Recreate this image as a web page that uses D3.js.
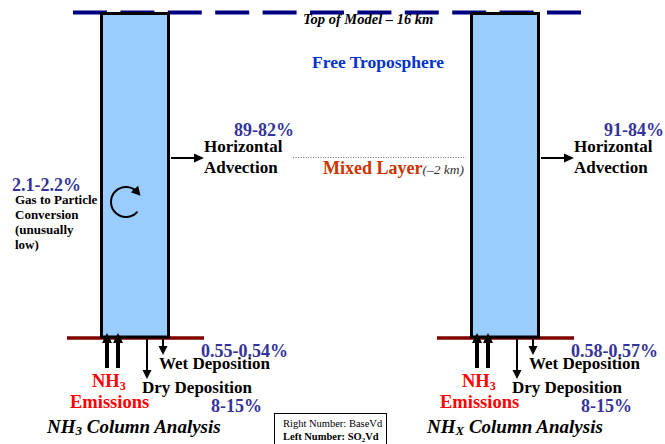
<!DOCTYPE html>
<html><head><meta charset="utf-8">
<script src="https://cdn.jsdelivr.net/npm/d3@7"></script>
<style>
html,body{margin:0;padding:0;background:#fff;}
svg{display:block;}
text{font-family:"Liberation Serif","Times New Roman",Times,serif;}
</style></head>
<body>
<svg id="chart" width="665" height="444"></svg>
<script>
// ---- data ----
const panels = ["NH3", "NHX"];
const panelSpecies = ["3", "X"];
const advectionPct = ["89-82%", "91-84%"];
const wetDepPct = ["0.55-0.54%", "0.58-0.57%"];
const dryDepPct = ["8-15%", "8-15%"];
const gasToParticlePct = ["2.1-2.2%", null];
const gasToParticleLabel = ["Gas to Particle", "Conversion", "(unusually", "low)"];
const topLabel = "Top of Model \u2013 16 km";
const freeTropLabel = "Free Troposphere";
const mixedLabel = "Mixed Layer";
const mixedHeight = "(\u20132 km)";
const legendLines = ["Right Number: BaseVd", "Left Number: SO"];

// ---- layout ----
const svg = d3.select("#chart");
const x = d3.scaleOrdinal().domain(panels).range([100, 470]);
const colW = 70;
const yTop = 12, yGround = 337;

const navy = "#000080", maroon = "#800000", pctColor = "#333399";

// top of model dashed line
svg.append("line").attr("x1", 73).attr("x2", 582).attr("y1", yTop + 0.5).attr("y2", yTop + 0.5)
  .attr("stroke", navy).attr("stroke-width", 4).attr("stroke-dasharray", "34,13.4");

// dotted mixed layer line
svg.append("line").attr("x1", 293).attr("x2", 466).attr("y1", 157.5).attr("y2", 157.5)
  .attr("stroke", "#777").attr("stroke-width", 1).attr("stroke-dasharray", "1,1.5");

function arrowHead(g, tipX, tipY, dx, dy, len, half, fill) {
  const bx = tipX - dx * len, by = tipY - dy * len;
  const nx = -dy, ny = dx;
  g.append("polygon")
    .attr("points", [[tipX, tipY], [bx + nx * half, by + ny * half], [bx - nx * half, by - ny * half]].map(p => p.join(",")).join(" "))
    .attr("fill", fill || "#000");
}

panels.forEach((p, i) => {
  const x0 = x(p);
  const g = svg.append("g");
  // ground line
  g.append("line").attr("x1", x0 - 33).attr("x2", x0 + 104).attr("y1", yGround + 1).attr("y2", yGround + 1)
    .attr("stroke", maroon).attr("stroke-width", 3.5);
  // column
  g.append("rect").attr("x", x0 + 1.5).attr("y", yTop + 1.5).attr("width", colW - 3).attr("height", yGround - yTop - 1.5)
    .attr("fill", "#99CCFF").attr("stroke", "#000").attr("stroke-width", 3);

  // emission arrows
  [7, 18].forEach(o => {
    g.append("line").attr("x1", x0 + o).attr("x2", x0 + o).attr("y1", 368).attr("y2", 342)
      .attr("stroke", "#000").attr("stroke-width", 4);
    arrowHead(g, x0 + o, 333, 0, -1, 10, 5);
  });
  // dry deposition arrow
  g.append("line").attr("x1", x0 + 47).attr("x2", x0 + 47).attr("y1", 339).attr("y2", 370)
    .attr("stroke", "#000").attr("stroke-width", 2);
  arrowHead(g, x0 + 47, 379, 0, 1, 9, 4.5);
  // wet deposition arrow
  g.append("line").attr("x1", x0 + 63).attr("x2", x0 + 63).attr("y1", 339).attr("y2", 347)
    .attr("stroke", "#000").attr("stroke-width", 2);
  arrowHead(g, x0 + 63, 355, 0, 1, 9, 4.5);
  // advection arrow
  g.append("line").attr("x1", x0 + 71).attr("x2", x0 + 95).attr("y1", 158).attr("y2", 158)
    .attr("stroke", "#000").attr("stroke-width", 2);
  arrowHead(g, x0 + 104, 158, 1, 0, 10, 4.5);

  // advection labels
  g.append("text").attr("x", x0 + 194).attr("y", 136).attr("text-anchor", "end")
    .attr("font-size", 18).attr("font-weight", "bold").attr("fill", pctColor).text(advectionPct[i]);
  g.append("text").attr("x", x0 + 104).attr("y", 152).attr("font-size", 17).attr("font-weight", "bold").text("Horizontal");
  g.append("text").attr("x", x0 + 104).attr("y", 173).attr("font-size", 17).attr("font-weight", "bold").text("Advection");

  // deposition labels
  g.append("text").attr("x", x0 + 188).attr("y", 357).attr("text-anchor", "end")
    .attr("font-size", 18).attr("font-weight", "bold").attr("fill", pctColor).text(wetDepPct[i]);
  g.append("text").attr("x", x0 + 59).attr("y", 369).attr("font-size", 17).attr("font-weight", "bold").text("Wet Deposition");
  g.append("text").attr("x", x0 + 42).attr("y", 393).attr("font-size", 17).attr("font-weight", "bold").text("Dry Deposition");
  g.append("text").attr("x", x0 + 162).attr("y", 412).attr("text-anchor", "end")
    .attr("font-size", 18).attr("font-weight", "bold").attr("fill", pctColor).text(dryDepPct[i]);

  // emissions label
  const nh = g.append("text").attr("x", x0 - 8).attr("y", 387).attr("font-size", 18.5).attr("font-weight", "bold").attr("fill", "#FF0000");
  nh.append("tspan").text("NH");
  nh.append("tspan").attr("font-size", 12).attr("dy", 3).text("3");
  g.append("text").attr("x", x0 - 30).attr("y", 408).attr("font-size", 18.5).attr("font-weight", "bold").attr("fill", "#FF0000").text("Emissions");

  // panel title
  const t = g.append("text").attr("x", i === 0 ? x0 - 53 : x0 - 43).attr("y", 433)
    .attr("font-size", 19).attr("font-weight", "bold").attr("font-style", "italic");
  t.append("tspan").text("NH");
  t.append("tspan").attr("font-size", 13).attr("dy", 2).text(panelSpecies[i]);
  t.append("tspan").attr("dy", -2).text(" Column Analysis");

  // gas-to-particle conversion
  if (gasToParticlePct[i]) {
    g.append("text").attr("x", x0 - 88).attr("y", 191).attr("font-size", 18).attr("font-weight", "bold")
      .attr("fill", pctColor).text(gasToParticlePct[i]);
    gasToParticleLabel.forEach((s, k) => {
      g.append("text").attr("x", x0 - 85).attr("y", 204 + k * 15).attr("font-size", 13).attr("font-weight", "bold").text(s);
    });
    // circular arrow
    const cx = x0 + 26, cy = 202, r = 15;
    const a0 = 40 * Math.PI / 180, a1 = 318 * Math.PI / 180;
    const path = d3.path();
    path.arc(cx, cy, r, a0, a1, false);
    g.append("path").attr("d", path.toString()).attr("fill", "none").attr("stroke", "#000").attr("stroke-width", 2);
    const ex = cx + r * Math.cos(a1), ey = cy + r * Math.sin(a1);
    const tx = -Math.sin(a1), ty = Math.cos(a1);
    arrowHead(g, ex + tx * 5, ey + ty * 5, tx, ty, 9, 5);
  }
});

// top of model label
svg.append("text").attr("x", 303).attr("y", 24).attr("font-size", 14.5).attr("font-weight", "bold")
  .attr("font-style", "italic").text(topLabel);
// free troposphere
svg.append("text").attr("x", 312).attr("y", 68).attr("font-size", 17.5).attr("font-weight", "bold")
  .attr("fill", "#0033CC").text(freeTropLabel);
// mixed layer
const ml = svg.append("text").attr("x", 323).attr("y", 174);
ml.append("tspan").attr("font-size", 18).attr("font-weight", "bold").attr("fill", "#CC3300").text(mixedLabel);
ml.append("tspan").attr("font-size", 13.5).attr("font-style", "italic").attr("fill", "#333").text(mixedHeight);

// legend box
svg.append("rect").attr("x", 274.5).attr("y", 413.5).attr("width", 112).attr("height", 40)
  .attr("fill", "#fff").attr("stroke", "#000").attr("stroke-width", 1);
svg.append("text").attr("x", 283).attr("y", 427).attr("font-size", 10.5).text(legendLines[0]);
const lg = svg.append("text").attr("x", 283).attr("y", 440).attr("font-size", 10.5).attr("font-weight", "bold");
lg.append("tspan").text(legendLines[1]);
lg.append("tspan").attr("font-size", 7).attr("dy", 2).text("2");
lg.append("tspan").attr("dy", -2).text("Vd");
</script>
</body></html>
